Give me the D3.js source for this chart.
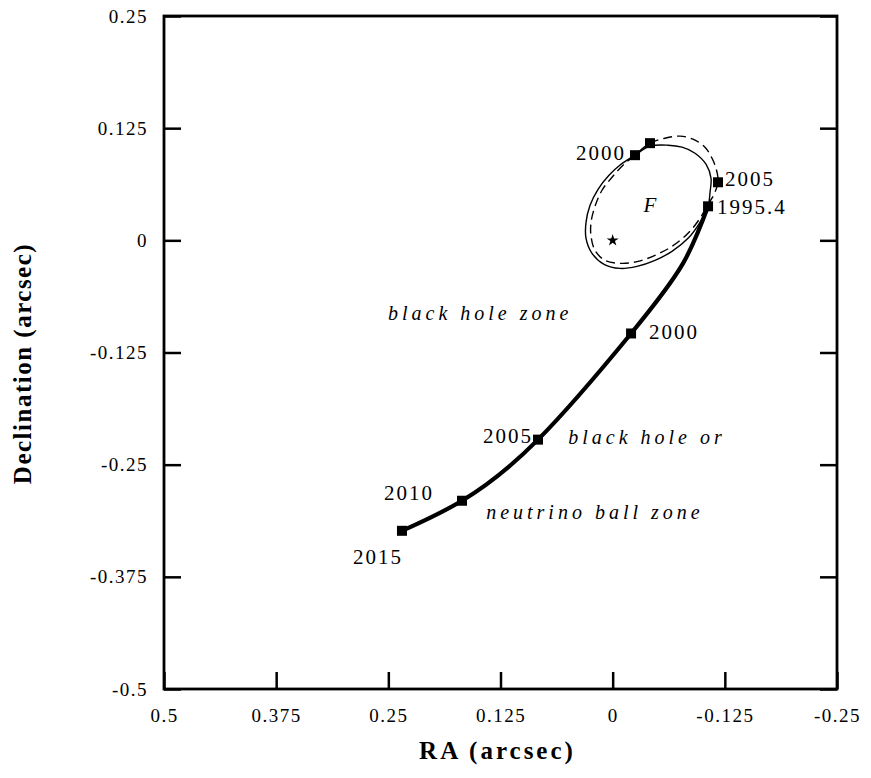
<!DOCTYPE html>
<html>
<head>
<meta charset="utf-8">
<script src="https://cdn.jsdelivr.net/npm/d3@7"></script>
<style>
  body { margin: 0; background: #fff; }
</style>
</head>
<body>
<div id="graph_container"></div>
<script>
// tick values and their printed labels
var xTicks = [0.5, 0.375, 0.25, 0.125, 0, -0.125, -0.25];
var xTickLabels = ["0.5", "0.375", "0.25", "0.125", "0", "-0.125", "-0.25"];
var yTicks = [0.25, 0.125, 0, -0.125, -0.25, -0.375, -0.5];
var yTickLabels = ["0.25", "0.125", "0", "-0.125", "-0.25", "-0.375", "-0.5"];

// neutrino ball orbit (thick), RA / Dec in arcsec
var trackRA  = [0.2348, 0.1679, 0.0832, -0.0205, -0.0784, -0.1063];
var trackDec = [-0.3237, -0.2902, -0.2221, -0.1038, -0.0257, 0.0379];

// black hole orbit (solid ellipse)
var solidRA  = [-0.0249, -0.0416, -0.0617, -0.0773, -0.0918, -0.1040, -0.1096, -0.1085, -0.1063, -0.0973, -0.0840, -0.0661,
                -0.0472, -0.0271, -0.0082, 0.0096, 0.0230, 0.0297, 0.0297, 0.0252, 0.0163, 0.0041, -0.0093];
var solidDec = [0.0949, 0.1049, 0.1060, 0.1038, 0.0971, 0.0848, 0.0692, 0.0536, 0.0379, 0.0201, 0.0022, -0.0123,
                -0.0223, -0.0290, -0.0313, -0.0268, -0.0145, 0.0022, 0.0201, 0.0391, 0.0569, 0.0725, 0.0848];

// second orbit (dashed ellipse)
var dashRA  = [-0.0249, -0.0416, -0.0583, -0.0751, -0.0895, -0.1029, -0.1118, -0.1163, -0.1174, -0.1130, -0.1063, -0.0973,
               -0.0840, -0.0661, -0.0472, -0.0283, -0.0093, 0.0085, 0.0197, 0.0241, 0.0241, 0.0197, 0.0119, 0.0007, -0.0115];
var dashDec = [0.0949, 0.1083, 0.1138, 0.1161, 0.1127, 0.1038, 0.0893, 0.0759, 0.0647, 0.0513, 0.0402, 0.0246,
               0.0078, -0.0067, -0.0167, -0.0234, -0.0257, -0.0223, -0.0112, 0.0045, 0.0201, 0.0379, 0.0558, 0.0703, 0.0837];

// epoch markers
var markYear = ["2015", "2010", "2005", "2000", "1995.4", "2000", "", "2005"];
var markRA   = [0.2348, 0.1679, 0.0832, -0.0205, -0.1063, -0.0249, -0.0416, -0.1174];
var markDec  = [-0.3237, -0.2902, -0.2221, -0.1038, 0.0379, 0.0949, 0.1083, 0.0647];
var markSide = ["below", "above", "left", "rightFar", "rightLow", "leftFar", "", "right"];

// zone labels
var zoneText = ["black hole zone", "black hole or", "neutrino ball zone"];
var zoneRA   = [0.2504, 0.0495, 0.1410];
var zoneDec  = [-0.0893, -0.2266, -0.3103];

var margin = {top: 16, right: 34, bottom: 89, left: 164},
    w = 871 - margin.left - margin.right,
    h = 778 - margin.top - margin.bottom;

var fontFam = "'Liberation Serif', 'DejaVu Serif', serif";

var xScale = d3.scaleLinear().range([0, w]).domain([0.5, -0.25]);
var yScale = d3.scaleLinear().range([h, 0]).domain([-0.5, 0.25]);

var svg = d3.select('#graph_container').append('svg')
    .attr("width", w + margin.left + margin.right)
    .attr("height", h + margin.top + margin.bottom)
    .append("g")
        .attr("transform", "translate(" + margin.left + "," + margin.top + ")");

//Axes with inward ticks
var xAx = svg.append("g")
    .attr("transform", "translate(0," + h + ")")
    .call(d3.axisBottom(xScale).tickValues(xTicks).tickSize(-17).tickPadding(20)
        .tickFormat(function(d, i) { return xTickLabels[i]; }));

var yAx = svg.append("g")
    .call(d3.axisLeft(yScale).tickValues(yTicks).tickSize(-17).tickPadding(16)
        .tickFormat(function(d, i) { return yTickLabels[i]; }));

var yAxR = svg.append("g")
    .attr("transform", "translate(" + w + ",0)")
    .call(d3.axisRight(yScale).tickValues(yTicks).tickSize(-17).tickFormat(""));

[xAx, yAx, yAxR].forEach(function(a) {
    a.select(".domain").remove();
    a.attr("font-family", fontFam);
    a.selectAll(".tick line").attr("stroke", "#000").attr("stroke-width", 2.5);
    a.selectAll(".tick text")
        .attr("font-size", 19)
        .attr("letter-spacing", 1.5);
});

//Frame
svg.append("rect")
    .attr("x", 0).attr("y", 0)
    .attr("width", w).attr("height", h)
    .attr("fill", "none")
    .attr("stroke", "#000")
    .attr("stroke-width", 2.8);

//Axis labels
svg.append("text")
    .attr("x", w / 2 - 3)
    .attr("y", h + 70)
    .attr("text-anchor", "middle")
    .attr("font-family", fontFam)
    .attr("font-weight", "bold")
    .attr("font-size", 25)
    .attr("letter-spacing", 3)
    .text("RA (arcsec)");

svg.append("text")
    .attr("transform", "rotate(-90)")
    .attr("x", -(h / 2) - 11)
    .attr("y", -margin.left + 31)
    .attr("text-anchor", "middle")
    .attr("font-family", fontFam)
    .attr("font-weight", "bold")
    .attr("font-size", 25)
    .attr("letter-spacing", 1.5)
    .text("Declination (arcsec)");

//Orbits
var trackLine = d3.line()
    .x(function(d, i) { return xScale(trackRA[i]); })
    .y(function(d, i) { return yScale(trackDec[i]); })
    .curve(d3.curveNatural);

svg.append("path")
    .attr("d", trackLine(trackRA))
    .attr("fill", "none")
    .attr("stroke", "#000")
    .attr("stroke-width", 4.2);

var solidLine = d3.line()
    .x(function(d, i) { return xScale(solidRA[i]); })
    .y(function(d, i) { return yScale(solidDec[i]); })
    .curve(d3.curveCatmullRomClosed);

svg.append("path")
    .attr("d", solidLine(solidRA))
    .attr("fill", "none")
    .attr("stroke", "#000")
    .attr("stroke-width", 1.4);

var dashLine = d3.line()
    .x(function(d, i) { return xScale(dashRA[i]); })
    .y(function(d, i) { return yScale(dashDec[i]); })
    .curve(d3.curveCatmullRomClosed);

svg.append("path")
    .attr("d", dashLine(dashRA))
    .attr("fill", "none")
    .attr("stroke", "#000")
    .attr("stroke-width", 1.4)
    .attr("stroke-dasharray", "9,5");

//Markers
svg.selectAll("rect.mark")
    .data(markRA)
    .enter()
    .append("rect")
        .attr("class", "mark")
        .attr("x", function(d) { return xScale(d) - 5; })
        .attr("y", function(d, i) { return yScale(markDec[i]) - 5; })
        .attr("width", 10)
        .attr("height", 10)
        .attr("fill", "#000");

// label offsets from the marker: dx, dy, anchor
var offs = {
    below:    [-24, 33, "middle"],
    above:    [-28, -1, "end"],
    left:     [-5, 3, "end"],
    leftFar:  [-9, 5, "end"],
    rightFar: [18, 6, "start"],
    right:    [7, 4, "start"],
    rightLow: [9, 8, "start"]
};

markYear.forEach(function(yr, i) {
    if (yr === "") return;
    var o = offs[markSide[i]];
    svg.append("text")
        .attr("x", xScale(markRA[i]) + o[0])
        .attr("y", yScale(markDec[i]) + o[1])
        .attr("text-anchor", o[2])
        .attr("font-family", fontFam)
        .attr("font-size", 21)
        .attr("letter-spacing", 2)
        .text(yr);
});

//Black hole position and focus
svg.append("path")
    .attr("transform", "translate(" + xScale(0) + "," + yScale(0) + ")")
    .attr("d", d3.symbol(d3.symbolStar).size(45)())
    .attr("fill", "#000");

svg.append("text")
    .attr("x", xScale(-0.0416))
    .attr("y", yScale(0.039) + 7)
    .attr("text-anchor", "middle")
    .attr("font-family", fontFam)
    .attr("font-style", "italic")
    .attr("font-size", 21)
    .text("F");

zoneText.forEach(function(t, i) {
    svg.append("text")
        .attr("x", xScale(zoneRA[i]))
        .attr("y", yScale(zoneDec[i]))
        .attr("font-family", fontFam)
        .attr("font-style", "italic")
        .attr("font-size", 20)
        .attr("letter-spacing", 4)
        .text(t);
});
</script>
</body>
</html>
